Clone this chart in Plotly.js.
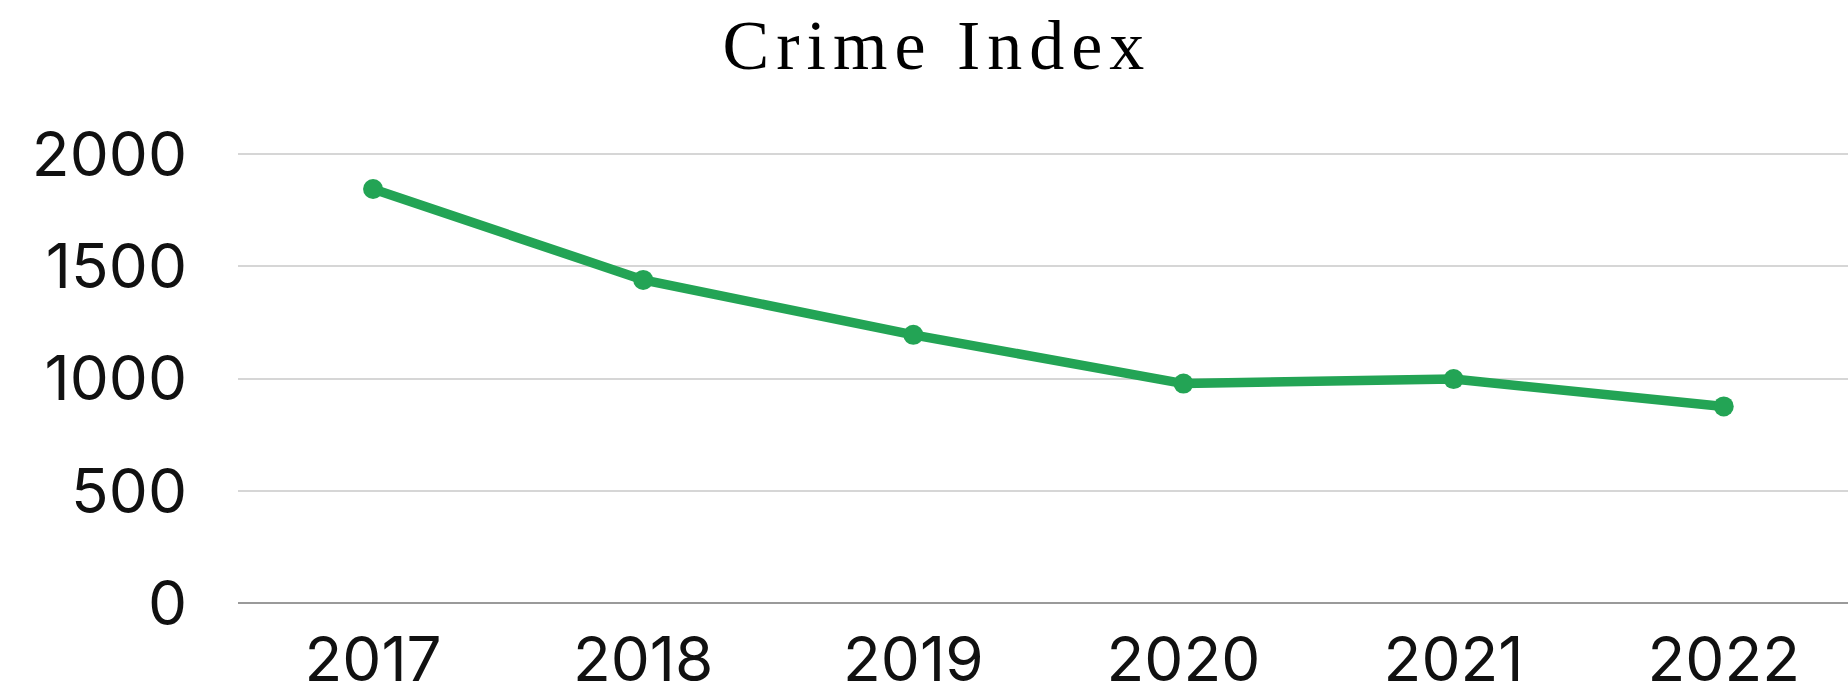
<!DOCTYPE html>
<html>
<head>
<meta charset="utf-8">
<script src="https://cdn.plot.ly/plotly-3.0.1.min.js"></script>
<style>
  html, body { margin: 0; padding: 0; background: #fff; }
  #chart { width: 1848px; height: 692px; }
</style>
</head>
<body>
<div id="chart"></div>
<script>
const years = ["2017", "2018", "2019", "2020", "2021", "2022"];
const crimeIndex = [1845, 1440, 1195, 978, 998, 876];
const yTickValues = [0, 500, 1000, 1500, 2000];
const yTickLabels = ["0", "500", "1000", "1500", "2000"];
const chartTitle = "Crime Index";

const trace = {
  type: "scatter",
  mode: "lines+markers",
  x: years,
  y: crimeIndex,
  line: { color: "#23a455", width: 9.5 },
  marker: { color: "#23a455", size: 20 },
  hoverinfo: "x+y"
};

const layout = {
  width: 1848,
  height: 692,
  margin: { l: 238, r: 0, t: 152, b: 89 },
  paper_bgcolor: "#ffffff",
  plot_bgcolor: "#ffffff",
  showlegend: false,
  title: {
    text: chartTitle,
    x: 0.507,
    xanchor: "center",
    y: 0.935,
    yanchor: "middle",
    font: { family: "Liberation Serif, Times New Roman, serif", size: 70, color: "#000" }
  },
  xaxis: {
    type: "category",
    range: [-0.5, 5.46],
    showgrid: false,
    showline: false,
    zeroline: false,
    ticks: "",
    ticklabelstandoff: 15,
    tickfont: { family: "Inter, Roboto, sans-serif", size: 62, color: "#111" }
  },
  yaxis: {
    range: [0, 2010],
    tickvals: yTickValues,
    ticktext: yTickLabels,
    showgrid: true,
    gridcolor: "#d6d6d6",
    gridwidth: 2,
    zeroline: true,
    zerolinecolor: "#9a9a9a",
    zerolinewidth: 2.5,
    showline: false,
    ticks: "",
    ticklabelstandoff: 50,
    tickfont: { family: "Inter, Roboto, sans-serif", size: 62, color: "#111" }
  }
};

Plotly.newPlot("chart", [trace], layout, { displayModeBar: false, staticPlot: true }).then(function () {
  const t = document.querySelector(".gtitle");
  if (t) { t.style.letterSpacing = "7px"; }
});
</script>
</body>
</html>
